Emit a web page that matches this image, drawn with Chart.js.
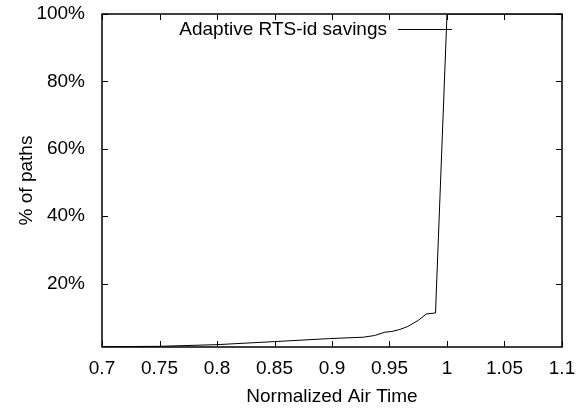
<!DOCTYPE html>
<html>
<head>
<meta charset="utf-8">
<script src="https://cdn.jsdelivr.net/npm/chart.js@4.4.1/dist/chart.umd.min.js"></script>
<style>
  html, body { margin: 0; padding: 0; background: #fff; }
  #wrap { width: 579px; height: 408px; }
</style>
</head>
<body>
<div id="wrap"><canvas id="cdfChart" width="579" height="408"></canvas></div>
<script>
// data
const airTime = [0.70, 0.75, 0.80, 0.85, 0.898, 0.927, 0.937, 0.946, 0.952, 0.959, 0.966, 0.975, 0.982, 0.990, 1.000, 1.10];
const pathsPct = [1.3, 1.4, 1.9, 2.8, 3.7, 4.1, 4.6, 5.6, 5.8, 6.4, 7.3, 9.1, 11.0, 11.3, 100, 100];
const xTickValues = [0.7, 0.75, 0.8, 0.85, 0.9, 0.95, 1, 1.05, 1.1];
const yTickValues = [20, 40, 60, 80, 100];
const seriesName = "Adaptive RTS-id savings";

const FONT = "'Liberation Sans', Arial, Helvetica, sans-serif";
const FSIZE = 19;

// gnuplot style frame, inward ticks on all sides and the key
const framePlugin = {
    id: "frame",
    afterDatasetsDraw(chart) {
        const ctx = chart.ctx;
        const a = chart.chartArea;
        const xs = chart.scales.x, ys = chart.scales.y;
        ctx.save();
        ctx.strokeStyle = "#000";
        ctx.lineWidth = 1;
        ctx.beginPath();
        xTickValues.forEach(v => {
            const px = Math.round(xs.getPixelForValue(v)) + 0.5;
            ctx.moveTo(px, a.bottom); ctx.lineTo(px, a.bottom - 6);
            ctx.moveTo(px, a.top); ctx.lineTo(px, a.top + 6);
        });
        yTickValues.forEach(v => {
            const py = Math.round(ys.getPixelForValue(v)) + 0.5;
            ctx.moveTo(a.left, py); ctx.lineTo(a.left + 6, py);
            ctx.moveTo(a.right, py); ctx.lineTo(a.right - 6, py);
        });
        ctx.stroke();
        ctx.lineWidth = 1.5;
        ctx.strokeRect(a.left, a.top, a.right - a.left, a.bottom - a.top);

        // key
        ctx.font = FSIZE + "px " + FONT;
        ctx.fillStyle = "#000";
        ctx.textAlign = "right";
        ctx.textBaseline = "middle";
        ctx.fillText(seriesName, 387, 30);
        ctx.lineWidth = 1;
        ctx.beginPath();
        ctx.moveTo(398, 29.5); ctx.lineTo(452, 29.5);
        ctx.stroke();
        ctx.restore();
    }
};

var ctx = document.getElementById("cdfChart").getContext("2d");
var cdfChart = new Chart(ctx, {
    type: "line",
    data: {
        datasets: [{
            label: seriesName,
            data: airTime.map((x, i) => ({ x: x, y: pathsPct[i] })),
            borderColor: "#000",
            borderWidth: 1,
            pointRadius: 0,
            fill: false,
            tension: 0
        }]
    },
    options: {
        responsive: false,
        animation: false,
        layout: { padding: { top: 14, right: 17, left: 0, bottom: 0 } },
        plugins: {
            legend: { display: false },
            tooltip: { enabled: false }
        },
        scales: {
            x: {
                type: "linear",
                min: 0.7,
                max: 1.1,
                afterBuildTicks: s => { s.ticks = xTickValues.map(v => ({ value: v })); },
                afterFit: s => { s.height = 61; s.paddingLeft = 0; s.paddingRight = 0; },
                grid: { display: false, drawTicks: false },
                border: { display: false },
                ticks: {
                    color: "#000",
                    font: { family: FONT, size: FSIZE },
                    padding: 10,
                    maxRotation: 0,
                    callback: v => String(Number(v.toFixed(2)))
                },
                title: {
                    display: true,
                    text: "Normalized Air Time",
                    color: "#000",
                    font: { family: FONT, size: FSIZE },
                    padding: { top: 0, bottom: 0 }
                }
            },
            y: {
                min: 1.2,
                max: 100,
                afterBuildTicks: s => { s.ticks = yTickValues.map(v => ({ value: v })); },
                afterFit: s => { s.width = 102; s.paddingTop = 0; s.paddingBottom = 0; },
                grid: { display: false, drawTicks: false },
                border: { display: false },
                ticks: {
                    color: "#000",
                    font: { family: FONT, size: FSIZE },
                    padding: 17,
                    callback: v => v + "%"
                },
                title: {
                    display: true,
                    text: "% of paths",
                    color: "#000",
                    font: { family: FONT, size: FSIZE },
                    padding: { top: 15.5, bottom: 0 }
                }
            }
        }
    },
    plugins: [framePlugin]
});
</script>
</body>
</html>
